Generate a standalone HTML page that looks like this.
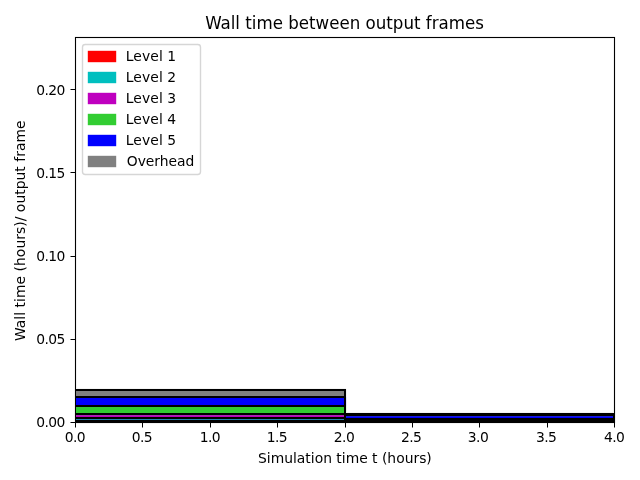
<!DOCTYPE html>
<html><head><meta charset="utf-8"><title>Wall time between output frames</title>
<style>
html,body{margin:0;padding:0;background:#fff;}
body{width:640px;height:480px;overflow:hidden;}
svg{display:block;}
text{font-family:"DejaVu Sans","Liberation Sans",sans-serif;fill:#000;}
.t{font-size:13.89px;}
.ti{font-size:16.67px;}
.k{letter-spacing:-0.55px;}
</style></head><body>
<svg width="640" height="480" viewBox="0 0 640 480">
<rect x="0" y="0" width="640" height="480" fill="#ffffff"/>

<g shape-rendering="crispEdges">
<rect x="75" y="389" width="271" height="34" fill="#000"/>
<rect x="76" y="391" width="268" height="5" fill="#808080"/>
<rect x="76" y="398" width="268" height="7" fill="#0000ff"/>
<rect x="76" y="407" width="268" height="6" fill="#32cd32"/>
<rect x="76" y="415" width="268" height="1" fill="#a828b4"/>
<rect x="76" y="416" width="268" height="1" fill="#be00be"/>
<rect x="76" y="419" width="268" height="1" fill="#2088b0"/>
<rect x="346" y="413" width="269" height="10" fill="#000"/>
<rect x="346" y="416" width="267" height="1" fill="#1a1ae2"/>
<rect x="346" y="417" width="267" height="1" fill="#0000fa"/>
</g>
<rect x="76" y="388" width="270" height="1" fill="#f4f4f4"/>
<rect x="346" y="412" width="268" height="1" fill="#f4f4f4"/>
<rect x="346" y="389" width="1" height="8" fill="#f4f4f4"/>
<rect x="346" y="397" width="1" height="9" fill="#e2e2ff"/>
<rect x="346" y="406" width="1" height="6" fill="#e4f8e4"/>
<g shape-rendering="crispEdges">
<rect x="75" y="37" width="1" height="386" fill="#000"/>
<rect x="614" y="37" width="1" height="386" fill="#000"/>
<rect x="75" y="37" width="540" height="1" fill="#000"/>
<rect x="75" y="422" width="540" height="1" fill="#000"/>
</g>
<rect x="74" y="37" width="1" height="386" fill="#f1f1f1"/>
<rect x="76" y="38" width="1" height="350" fill="#f1f1f1"/>
<rect x="613" y="38" width="1" height="374" fill="#f1f1f1"/>
<rect x="615" y="37" width="1" height="386" fill="#f1f1f1"/>
<rect x="75" y="36" width="540" height="1" fill="#f1f1f1"/>
<rect x="77" y="38" width="536" height="1" fill="#f1f1f1"/>
<rect x="75" y="423" width="540" height="1" fill="#f1f1f1"/>
<rect x="75" y="423" width="1" height="4" fill="#000"/>
<rect x="75" y="427" width="1" height="1" fill="#7f7f7f"/>
<rect x="142" y="423" width="1" height="4" fill="#000"/>
<rect x="142" y="427" width="1" height="1" fill="#7f7f7f"/>
<rect x="210" y="423" width="1" height="4" fill="#000"/>
<rect x="210" y="427" width="1" height="1" fill="#7f7f7f"/>
<rect x="277" y="423" width="1" height="4" fill="#000"/>
<rect x="277" y="427" width="1" height="1" fill="#7f7f7f"/>
<rect x="345" y="423" width="1" height="4" fill="#000"/>
<rect x="345" y="427" width="1" height="1" fill="#7f7f7f"/>
<rect x="412" y="423" width="1" height="4" fill="#000"/>
<rect x="412" y="427" width="1" height="1" fill="#7f7f7f"/>
<rect x="479" y="423" width="1" height="4" fill="#000"/>
<rect x="479" y="427" width="1" height="1" fill="#7f7f7f"/>
<rect x="547" y="423" width="1" height="4" fill="#000"/>
<rect x="547" y="427" width="1" height="1" fill="#7f7f7f"/>
<rect x="614" y="423" width="1" height="4" fill="#000"/>
<rect x="614" y="427" width="1" height="1" fill="#7f7f7f"/>
<rect x="71" y="89" width="4" height="1" fill="#000"/>
<rect x="70" y="89" width="1" height="1" fill="#7f7f7f"/>
<rect x="71" y="172" width="4" height="1" fill="#000"/>
<rect x="70" y="172" width="1" height="1" fill="#7f7f7f"/>
<rect x="71" y="256" width="4" height="1" fill="#000"/>
<rect x="70" y="256" width="1" height="1" fill="#7f7f7f"/>
<rect x="71" y="339" width="4" height="1" fill="#000"/>
<rect x="70" y="339" width="1" height="1" fill="#7f7f7f"/>
<rect x="71" y="422" width="4" height="1" fill="#000"/>
<rect x="70" y="422" width="1" height="1" fill="#7f7f7f"/>
<text class="t k" x="74.9" y="442" text-anchor="middle">0.0</text>
<text class="t k" x="141.9" y="442" text-anchor="middle">0.5</text>
<text class="t k" x="209.9" y="442" text-anchor="middle">1.0</text>
<text class="t k" x="276.9" y="442" text-anchor="middle">1.5</text>
<text class="t k" x="344" y="442" text-anchor="middle">2.0</text>
<text class="t k" x="411.2" y="442" text-anchor="middle">2.5</text>
<text class="t k" x="478" y="442" text-anchor="middle">3.0</text>
<text class="t k" x="546.1" y="442" text-anchor="middle">3.5</text>
<text class="t k" x="614.2" y="442" text-anchor="middle">4.0</text>
<text class="t k" x="64.9" y="95" text-anchor="end">0.20</text>
<text class="t k" x="64.9" y="178" text-anchor="end">0.15</text>
<text class="t k" x="64.9" y="261" text-anchor="end">0.10</text>
<text class="t k" x="64.9" y="344" text-anchor="end">0.05</text>
<text class="t k" x="64.9" y="427" text-anchor="end">0.00</text>
<text class="ti" transform="translate(344.5,29) scale(1,1.07)" text-anchor="middle">Wall time between output frames</text>
<text class="t" x="344.9" y="462.5" text-anchor="middle">Simulation time t (hours)</text>
<text class="t" transform="translate(25.2,230.7) rotate(-90)" text-anchor="middle" letter-spacing="0.04">Wall time (hours)/ output frame</text>
<rect x="82.5" y="44.5" width="118" height="130" rx="2.78" ry="2.78" fill="#ffffff" fill-opacity="0.8" stroke="#cccccc" stroke-opacity="0.8" stroke-width="1.39"/>
<rect x="87.8" y="50.80" width="28.4" height="11.4" fill="#ff0000"/>
<text class="t" x="125.8" y="61" letter-spacing="0.09">Level 1</text>
<rect x="87.8" y="71.80" width="28.4" height="11.4" fill="#00bfbf"/>
<text class="t" x="125.8" y="82" letter-spacing="0.09">Level 2</text>
<rect x="87.8" y="92.80" width="28.4" height="11.4" fill="#bf00bf"/>
<text class="t" x="125.8" y="103" letter-spacing="0.09">Level 3</text>
<rect x="87.8" y="113.80" width="28.4" height="11.4" fill="#32cd32"/>
<text class="t" x="125.8" y="124" letter-spacing="0.09">Level 4</text>
<rect x="87.8" y="134.80" width="28.4" height="11.4" fill="#0000ff"/>
<text class="t" x="125.8" y="145" letter-spacing="0.09">Level 5</text>
<rect x="87.8" y="155.80" width="28.4" height="11.4" fill="#808080"/>
<text class="t" x="126.8" y="166" letter-spacing="-0.05">Overhead</text>
</svg></body></html>
